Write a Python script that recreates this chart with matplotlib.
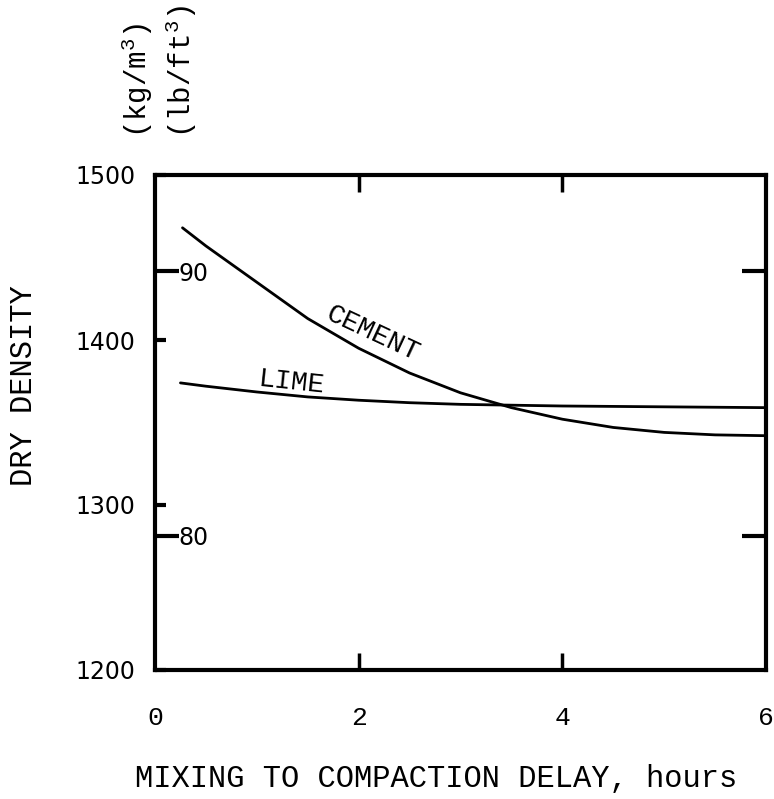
import matplotlib
matplotlib.use("Agg")
import matplotlib.pyplot as plt

# Dry density (kg/m^3) against mixing-to-compaction delay (hours)
cement_hours = [0.27, 0.5, 1.0, 1.5, 2.0, 2.5, 3.0, 3.5, 4.0, 4.5, 5.0, 5.5, 6.0]
cement_density = [1468, 1457, 1435, 1413, 1395, 1380, 1368, 1359, 1352, 1347, 1344, 1342.5, 1342]

lime_hours = [0.25, 0.5, 1.0, 1.5, 2.0, 2.5, 3.0, 4.0, 5.0, 6.0]
lime_density = [1374, 1372, 1368.5, 1365.5, 1363.5, 1362, 1361, 1360, 1359.5, 1359]

x_ticks = [0, 2, 4, 6]
kg_ticks = [1200, 1300, 1400, 1500]
lb_ticks = [80, 90]
KG_PER_LB_FT3 = 16.018

mono = "Liberation Mono"
sans = "DejaVu Sans"
plt.rcParams["mathtext.fontset"] = "custom"
plt.rcParams["mathtext.rm"] = mono
plt.rcParams["mathtext.default"] = "regular"

fig = plt.figure(figsize=(7.74, 7.99), dpi=100)
ax = fig.add_axes([155 / 774, 1 - 670 / 799, 611 / 774, 495 / 799])

line_kw = dict(color="black", lw=2.0, solid_capstyle="round",
               solid_joinstyle="round")
ax.plot(cement_hours, cement_density, **line_kw)
ax.plot(lime_hours, lime_density, **line_kw)

ax.set_xlim(0, 6)
ax.set_ylim(1200, 1500)

for s in ax.spines.values():
    s.set_linewidth(3.0)

# density in kg/m^3 on the left, ticks mirrored on the right
ax.set_yticks(kg_ticks)
ax.set_yticklabels([str(v) for v in kg_ticks], fontfamily=sans, fontsize=17)
ax.tick_params(axis="y", direction="in", length=8, width=3.0, left=True,
               right=True, pad=14)

# hours along the bottom, ticks mirrored on top
ax.set_xticks(x_ticks)
ax.set_xticklabels([str(v) for v in x_ticks], fontfamily=mono, fontsize=19)
ax.tick_params(axis="x", direction="in", length=12, width=2.5, top=True,
               bottom=True, pad=26)
for t in ax.xaxis.get_major_ticks():
    if t.get_loc() in (0, 6):
        t.tick1line.set_visible(False)
        t.tick2line.set_visible(False)

# second density scale in lb/ft^3, labelled inside the frame
ax2 = ax.twinx()
ax2.set_ylim(1200 / KG_PER_LB_FT3, 1500 / KG_PER_LB_FT3)
ax2.set_yticks(lb_ticks)
ax2.yaxis.set_ticks_position("both")
ax2.tick_params(axis="y", direction="in", length=17, width=3.0, left=True,
                right=True, labelleft=True, labelright=False, pad=-17)
ax2.set_yticklabels([str(v) for v in lb_ticks], fontfamily=sans, fontsize=17)
for tl in ax2.get_yticklabels():
    tl.set_horizontalalignment("left")
for s in ax2.spines.values():
    s.set_visible(False)

# curve labels
ax.text(2.14, 1404, "CEMENT", fontfamily=mono, fontsize=20, rotation=-25,
        ha="center", va="center", rotation_mode="anchor")
ax.text(1.34, 1374, "LIME", fontfamily=mono, fontsize=20, rotation=-6,
        ha="center", va="center", rotation_mode="anchor")

# axis titles
fig.text(436 / 774, 1 - 779 / 799, "MIXING TO COMPACTION DELAY, hours",
         fontfamily=mono, fontsize=22, ha="center", va="center")
fig.text(24 / 774, 1 - 386 / 799, "DRY DENSITY", fontfamily=mono, fontsize=22,
         rotation=90, ha="center", va="center")
fig.text(137 / 774, 1 - 138 / 799, "(kg/m$^{3}$)", fontfamily=mono,
         fontsize=21, rotation=90, ha="center", va="bottom")
fig.text(181 / 774, 1 - 138 / 799, "(lb/ft$^{3}$)", fontfamily=mono,
         fontsize=21, rotation=90, ha="center", va="bottom")

fig.savefig("out.png", dpi=100, facecolor="white")
